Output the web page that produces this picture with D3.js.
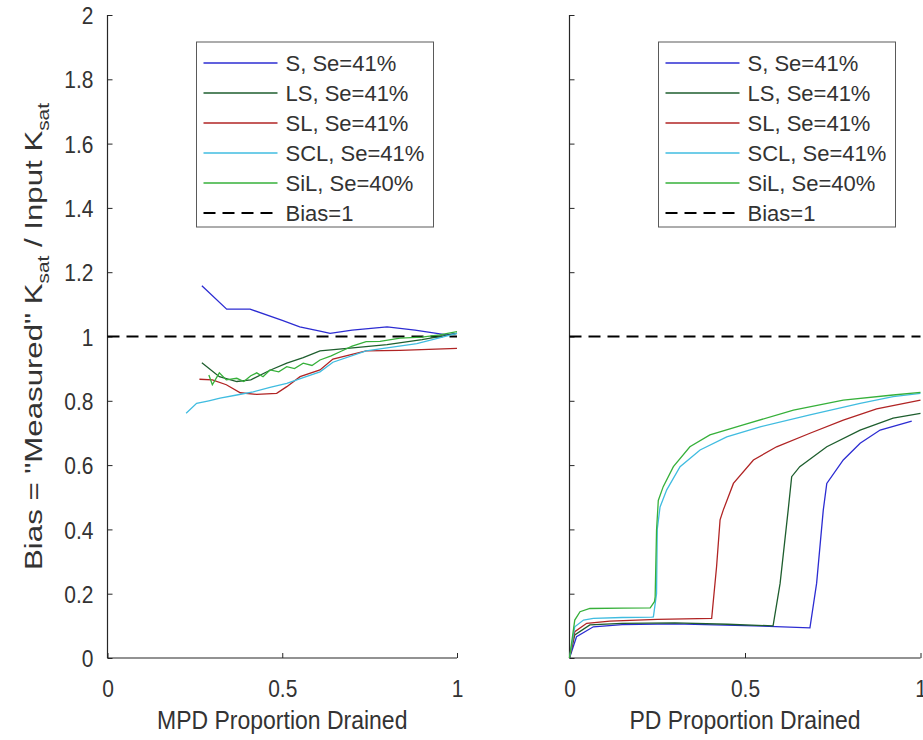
<!DOCTYPE html>
<html><head><meta charset="utf-8">
<script src="https://cdn.jsdelivr.net/npm/d3@7"></script>
<style>body{margin:0;background:#fff}text{font-family:"Liberation Sans",Arial,sans-serif;fill:#333}</style>
</head><body><svg id="c" width="923" height="740"></svg>
<script>
// ---- data ----
const seriesNames = ["S, Se=41%","LS, Se=41%","SL, Se=41%","SCL, Se=41%","SiL, Se=40%"];
const seriesColors = ["#2c2cd2","#1e5e2e","#b02424","#40bce0","#36b03a"];
const biasLabel = "Bias=1";
const yTicks = [0,0.2,0.4,0.6,0.8,1,1.2,1.4,1.6,1.8,2];
const xTicks = [0,0.5,1];

// MPD panel
const mpd_S_x   = [0.27,0.341,0.408,0.5,0.55,0.608,0.637,0.70,0.80,0.88,0.97,1.0];
const mpd_S_y   = [1.158,1.085,1.085,1.05,1.03,1.017,1.01,1.02,1.03,1.02,1.005,1.01];
const mpd_LS_x  = [0.27,0.32,0.37,0.41,0.465,0.513,0.56,0.608,0.694,0.80,0.90,1.0];
const mpd_LS_y  = [0.918,0.875,0.86,0.865,0.895,0.917,0.934,0.955,0.964,0.975,0.99,1.01];
const mpd_SL_x  = [0.263,0.30,0.34,0.38,0.427,0.484,0.513,0.551,0.608,0.645,0.74,0.837,1.0];
const mpd_SL_y  = [0.867,0.865,0.85,0.825,0.82,0.823,0.844,0.875,0.896,0.93,0.955,0.957,0.963];
const mpd_SCL_x = [0.225,0.255,0.29,0.322,0.37,0.417,0.465,0.513,0.56,0.608,0.645,0.74,0.885,1.0];
const mpd_SCL_y = [0.761,0.792,0.80,0.808,0.818,0.828,0.842,0.854,0.872,0.89,0.92,0.955,0.978,1.01];
const mpd_SiL_x = [0.29,0.30,0.32,0.34,0.37,0.39,0.41,0.427,0.445,0.465,0.49,0.513,0.535,0.56,0.585,0.608,0.64,0.67,0.70,0.74,0.78,0.837,0.90,0.95,1.0];
const mpd_SiL_y = [0.88,0.85,0.887,0.865,0.87,0.86,0.878,0.887,0.875,0.896,0.89,0.906,0.90,0.917,0.91,0.927,0.94,0.955,0.97,0.984,0.985,0.995,0.998,1.005,1.015];

// PD panel
const pd_S_x   = [0,0.02,0.068,0.15,0.3,0.5,0.685,0.704,0.723,0.733,0.78,0.828,0.885,0.975];
const pd_S_y   = [0,0.066,0.097,0.104,0.106,0.101,0.094,0.232,0.46,0.543,0.616,0.668,0.709,0.737];
const pd_LS_x  = [0,0.015,0.058,0.15,0.3,0.45,0.58,0.60,0.623,0.633,0.656,0.733,0.828,0.922,1.0];
const pd_LS_y  = [0,0.072,0.103,0.108,0.109,0.105,0.10,0.232,0.46,0.564,0.595,0.657,0.709,0.746,0.761];
const pd_SL_x  = [0,0.015,0.049,0.115,0.25,0.405,0.419,0.429,0.438,0.467,0.524,0.59,0.685,0.78,0.875,1.0];
const pd_SL_y  = [0,0.082,0.108,0.115,0.12,0.123,0.284,0.43,0.46,0.543,0.616,0.657,0.699,0.74,0.775,0.802];
const pd_SCL_x = [0,0.015,0.04,0.068,0.15,0.234,0.239,0.248,0.25,0.258,0.277,0.315,0.372,0.448,0.543,0.685,0.828,0.922,1.0];
const pd_SCL_y = [0,0.097,0.118,0.123,0.126,0.127,0.128,0.2,0.4,0.47,0.523,0.595,0.647,0.688,0.719,0.756,0.792,0.813,0.823];
const pd_SiL_x = [0,0.015,0.03,0.058,0.15,0.23,0.242,0.244,0.248,0.253,0.267,0.296,0.343,0.40,0.495,0.638,0.78,0.922,1.0];
const pd_SiL_y = [0,0.118,0.144,0.154,0.155,0.156,0.175,0.19,0.398,0.49,0.533,0.595,0.657,0.694,0.725,0.771,0.802,0.818,0.826];

const mpdX = [mpd_S_x,mpd_LS_x,mpd_SL_x,mpd_SCL_x,mpd_SiL_x];
const mpdY = [mpd_S_y,mpd_LS_y,mpd_SL_y,mpd_SCL_y,mpd_SiL_y];
const pdX  = [pd_S_x,pd_LS_x,pd_SL_x,pd_SCL_x,pd_SiL_x];
const pdY  = [pd_S_y,pd_LS_y,pd_SL_y,pd_SCL_y,pd_SiL_y];

// ---- drawing ----
const svg = d3.select("#c");
const yTop = 15, yBot = 658;
const y = d3.scaleLinear().domain([0,2]).range([yBot, yTop]);
const tickF = 21, tickK = 1.15, capTick = 0.716 * tickF * tickK;

function panel(x0, x1, xs, ys, showYLabels, xlabel) {
  const x = d3.scaleLinear().domain([0,1]).range([x0, x1]);
  const g = svg.append("g");
  const ya = g.append("g").attr("transform", `translate(${x0},0)`)
    .call(d3.axisLeft(y).tickValues(yTicks).tickSize(-5)
      .tickFormat(showYLabels ? d3.format("") : () => ""));
  const xa = g.append("g").attr("transform", `translate(0,${yBot})`)
    .call(d3.axisBottom(x).tickValues(xTicks).tickSize(-5).tickFormat(d3.format("")));
  [ya, xa].forEach(a => {
    a.select(".domain").attr("stroke", "#262626").attr("stroke-width", 1.2);
    a.selectAll(".tick line").attr("stroke", "#262626");
    a.selectAll(".tick text").style("font-size", tickF + "px").attr("fill", "#333")
      .attr("font-family", null);
  });
  ya.selectAll(".tick text").attr("x", null).attr("dy", null)
    .attr("transform", `translate(-14,${capTick / 2}) scale(1,${tickK})`);
  xa.selectAll(".tick text").attr("y", null).attr("dy", null)
    .attr("transform", `translate(0,${30 + capTick / 2}) scale(1,${tickK})`);
  ya.select(".domain").attr("d", `M0,${yTop}V${yBot}`);
  xa.select(".domain").attr("d", `M${x0},0H${x1}`);
  g.append("line").attr("x1", x(0)).attr("x2", x(1)).attr("y1", y(1)).attr("y2", y(1))
    .attr("stroke", "#000").attr("stroke-width", 2.2).attr("stroke-dasharray", "12,7");
  const line = d3.line().x(d => x(d[0])).y(d => y(d[1]));
  xs.forEach((xv, i) => {
    const pts = xv.map((v, j) => [v, ys[i][j]]);
    g.append("path").attr("d", line(pts)).attr("fill", "none")
      .attr("stroke", seriesColors[i]).attr("stroke-width", 1.3);
  });
  g.append("text").attr("transform", `translate(${(x0 + x1) / 2},729) scale(1,1.15)`)
    .attr("text-anchor", "middle").style("font-size", "23px").text(xlabel);
  const lx = x0 + 89, ly = 42, lw = 237, lh = 185;
  const lg = g.append("g");
  lg.append("rect").attr("x", lx).attr("y", ly).attr("width", lw).attr("height", lh)
    .attr("fill", "#fff").attr("stroke", "#5a5a5a").attr("stroke-width", 1);
  const rows = seriesNames.concat([biasLabel]);
  rows.forEach((nm, i) => {
    const ry = ly + 21 + i * 30;
    const ln = lg.append("line").attr("x1", lx + 7).attr("x2", lx + 81).attr("y1", ry).attr("y2", ry);
    if (i < seriesNames.length) ln.attr("stroke", seriesColors[i]).attr("stroke-width", 1.3);
    else ln.attr("stroke", "#000").attr("stroke-width", 2.2).attr("stroke-dasharray", "12,7");
    lg.append("text").attr("x", lx + 89).attr("y", ry + 8).style("font-size", "22px").text(nm);
  });
}

panel(107.5, 457, mpdX, mpdY, true, "MPD Proportion Drained");
panel(569.5, 920.5, pdX, pdY, false, "PD Proportion Drained");

const yl = svg.append("text").attr("transform", `translate(42,${(yTop + yBot) / 2}) rotate(-90) scale(1.3,1)`)
  .attr("text-anchor", "middle").style("font-size", "24px");
yl.append("tspan").text("Bias = \"Measured\" K");
yl.append("tspan").attr("dy", 7).style("font-size", "16px").text("sat");
yl.append("tspan").attr("dy", -7).text(" / Input K");
yl.append("tspan").attr("dy", 7).style("font-size", "16px").text("sat");
</script></body></html>
